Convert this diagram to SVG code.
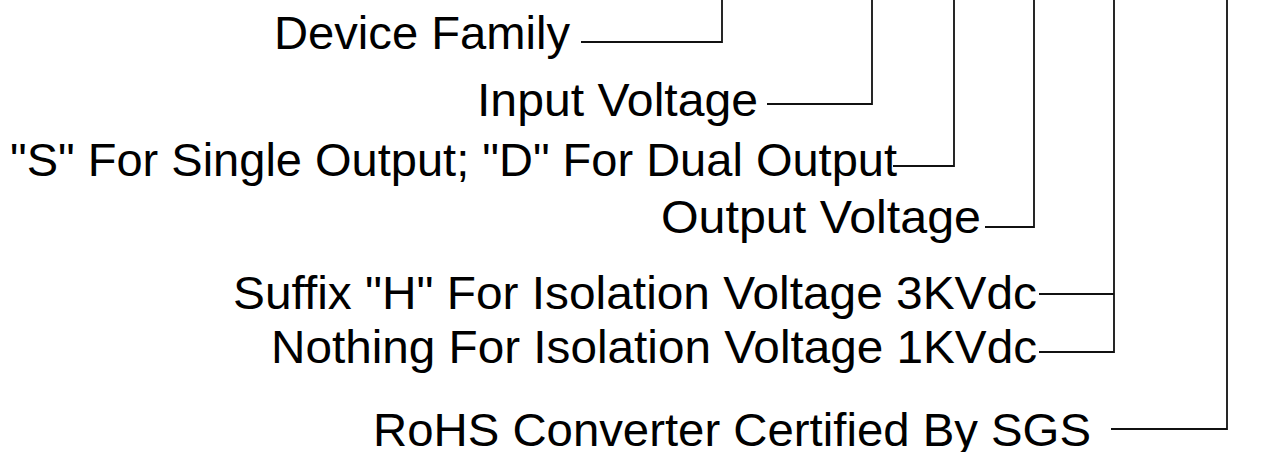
<svg xmlns="http://www.w3.org/2000/svg" width="1284" height="452" viewBox="0 0 1284 452">
<style>
.lbl{font-family:"Liberation Sans",Arial,sans-serif;font-size:47px;fill:#000}
.ln{fill:none;stroke:#111;stroke-width:1.8}
</style>
<rect width="1284" height="452" fill="#fff"/>
<g id="connectors">
<path class="ln" d="M581,42 H722 V0"/>
<path class="ln" d="M767,104 H872 V0"/>
<path class="ln" d="M893,166 H954 V0"/>
<path class="ln" d="M985,227 H1034 V0"/>
<path class="ln" d="M1039,294 H1114 V0 M1039,352 H1114 V294"/>
<path class="ln" d="M1111,429 H1227 V0"/>
</g>
<g id="device-family"><text class="lbl" x="274" y="49" textLength="296" lengthAdjust="spacingAndGlyphs">Device Family</text></g>
<g id="input-voltage"><text class="lbl" x="477" y="116" textLength="281" lengthAdjust="spacingAndGlyphs">Input Voltage</text></g>
<g id="output-type"><text class="lbl" x="10" y="176" textLength="887" lengthAdjust="spacingAndGlyphs">"S" For Single Output; "D" For Dual Output</text></g>
<g id="output-voltage"><text class="lbl" x="661" y="233" textLength="320" lengthAdjust="spacingAndGlyphs">Output Voltage</text></g>
<g id="isolation-3k"><text class="lbl" x="233" y="309" textLength="804" lengthAdjust="spacingAndGlyphs">Suffix "H" For Isolation Voltage 3KVdc</text></g>
<g id="isolation-1k"><text class="lbl" x="271" y="363" textLength="766" lengthAdjust="spacingAndGlyphs">Nothing For Isolation Voltage 1KVdc</text></g>
<g id="rohs"><text class="lbl" x="373" y="446" textLength="718" lengthAdjust="spacingAndGlyphs">RoHS Converter Certified By SGS</text></g>
</svg>
